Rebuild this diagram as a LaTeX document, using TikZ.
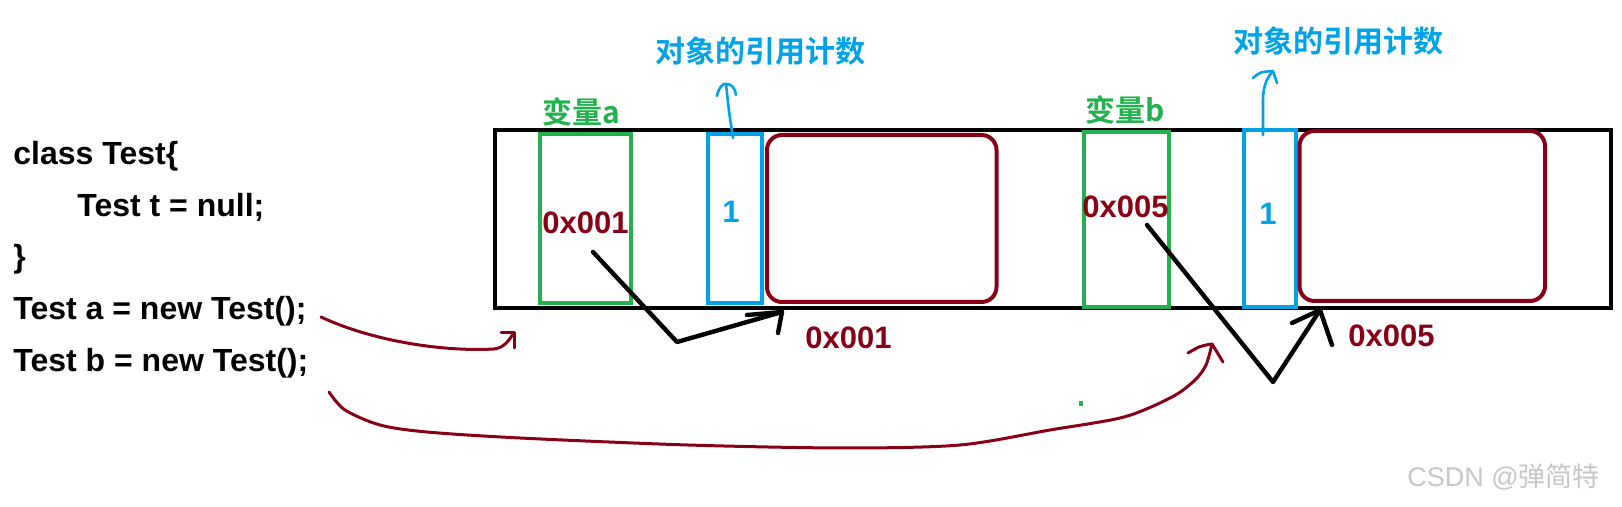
\documentclass[tikz,border=0pt]{standalone}
\usepackage{fontspec}
\setmainfont{Liberation Sans}
\newfontfamily\cjk{Noto Sans CJK SC Bold}
\newfontfamily\cjkthin{Noto Sans CJK SC}
\usepackage{tikz}
\usetikzlibrary{positioning}
\definecolor{paintgreen}{HTML}{22B14C}
\definecolor{paintblue}{HTML}{00A2E8}
\definecolor{paintred}{HTML}{880015}
\tikzset{
  codeln/.style = {anchor=base west, inner sep=0pt, font=\fontsize{16}{19}\selectfont\bfseries},
  cell/.style   = {draw, line width=2pt, inner sep=0pt},
  varbox/.style = {cell, paintgreen},
  cntbox/.style = {cell, paintblue},
  objbox/.style = {cell, paintred, rounded corners=7.5pt},
  varlbl/.style = {anchor=base west, inner sep=0pt, text=paintgreen, font=\fontsize{15}{18}\selectfont\cjk},
  cntlbl/.style = {anchor=base west, inner sep=0pt, text=paintblue, font=\fontsize{15}{18}\selectfont\cjk},
  hexlbl/.style = {anchor=base west, inner sep=0pt, text=paintred, font=\fontsize{15.5}{18}\selectfont\bfseries},
  cntval/.style = {anchor=base, inner sep=0pt, text=paintblue, font=\fontsize{15.5}{18}\selectfont\bfseries},
  pen/.style    = {line width=2.2pt, line cap=round, line join=round},
  redpen/.style = {paintred, line width=1.5pt, line cap=round, line join=round},
  bluepen/.style= {paintblue, line width=1.3pt, line cap=round, line join=round},
}

\begin{document}
\begin{tikzpicture}[x=0.5pt, y=-0.5pt]
  \useasboundingbox (0,0) rectangle (1622,507);
  % code
  \node[codeln] (cls)   at (13,165)  {class Test\{};
  \node[codeln] (fld)   at (77,217)  {Test t = null;};
  \node[codeln] (clsend) at (13,268) {\}};
  \node[codeln] (newA)  at (13,320)  {Test a = new Test();};
  \node[codeln] (newB)  at (13,372)  {Test b = new Test();};
  % memory strip
  \node[draw, line width=2.2pt, inner sep=0pt, minimum width=558pt, minimum height=89pt] (mem) at (1053,219) {};
  \node[varbox, minimum width=45.5pt,  minimum height=84.5pt] (varA) at (585,218.5) {};
  \node[cntbox, minimum width=27pt,    minimum height=84.5pt] (cntA) at (735,218.5) {};
  \node[objbox, minimum width=114.75pt, minimum height=83.5pt] (objA) at (881.75,218.5) {};
  \node[varbox, minimum width=42.5pt,  minimum height=87.5pt] (varB) at (1126.5,219.5) {};
  \node[cntbox, minimum width=25.75pt, minimum height=88.5pt] (cntB) at (1269.75,218.5) {};
  \node[objbox, minimum width=122.75pt, minimum height=85pt] (objB) at (1422.25,216) {};
  % labels
  \node[varlbl] (nameA) at (542,124)  {变量a};
  \node[varlbl] (nameB) at (1085,122) {变量b};
  \node[hexlbl] (refA)  at (542,234)  {0x001};
  \node[hexlbl] (refB)  at (1082,218) {0x005};
  \node[cntval] (numA)  at (731,223)  {1};
  \node[cntval] (numB)  at (1268,225) {1};
  \node[hexlbl] (addrA) at (805,349)  {0x001};
  \node[hexlbl] (addrB) at (1348,347) {0x005};
  \node[cntlbl] (rcA)   at (655,63)   {对象的引用计数};
  \node[cntlbl] (rcB)   at (1233,53)  {对象的引用计数};
  % pointer a
  \coordinate (ptrA) at (593,252);
  \coordinate (kneeA) at (677,342);
  \coordinate (tipA) at (782,312);
  \draw[pen] (ptrA) -- (kneeA) -- (tipA);
  \draw[pen] (747,315) -- (tipA) -- (778,333);
  % pointer b
  \coordinate (ptrB) at (1147,225);
  \coordinate (kneeB) at (1273,382);
  \coordinate (tipB) at (1320,310);
  \draw[pen] (ptrB) -- (kneeB) -- (tipB);
  \draw[pen] (1292,323) -- (tipB) -- (1332,345);
  % count arrows
  \coordinate (upA) at (726,84);
  \draw[bluepen] (733,138) .. controls (729,112) .. (upA);
  \draw[bluepen] (717,96) .. controls (719,86) and (724,83) .. (upA) .. controls (732,84) and (735,88) .. (736,95);
  \coordinate (upB) at (1273,71);
  \draw[bluepen] (1263,135) -- (1263,100) .. controls (1263,86) and (1267,78) .. (upB);
  \draw[bluepen] (1253,78) .. controls (1260,72) .. (upB) -- (1277,83);
  % new Test() arrows
  \coordinate (tailA) at (321,317);
  \coordinate (headA) at (513,334);
  \draw[redpen] (tailA) .. controls (370,340) and (440,352) .. (494,349)
                        .. controls (503,348) and (508,342) .. (headA);
  \draw[redpen] (501,333) -- (514,333) -- (514,348);
  \coordinate (tailB) at (329,392);
  \coordinate (headB) at (1212,344);
  \draw[redpen] plot[smooth] coordinates {(tailB) (345,410) (380,425) (427,432) (520,438)
     (688,445) (845,448) (960,445) (1050,430) (1124,417) (1172,397) (1195,380) (1206,365) (headB)};
  \draw[redpen] (1188,353) .. controls (1200,346) .. (headB) -- (1223,362);
  \fill[paintgreen] (1079,401) rectangle (1083,406);
  % watermark
  \node[anchor=base west, inner sep=0pt, text=black!22, font=\fontsize{13.5}{16}\selectfont] (wm) at (1407,487)
    {CSDN @{\cjkthin 弹简特}};
\end{tikzpicture}
\end{document}
